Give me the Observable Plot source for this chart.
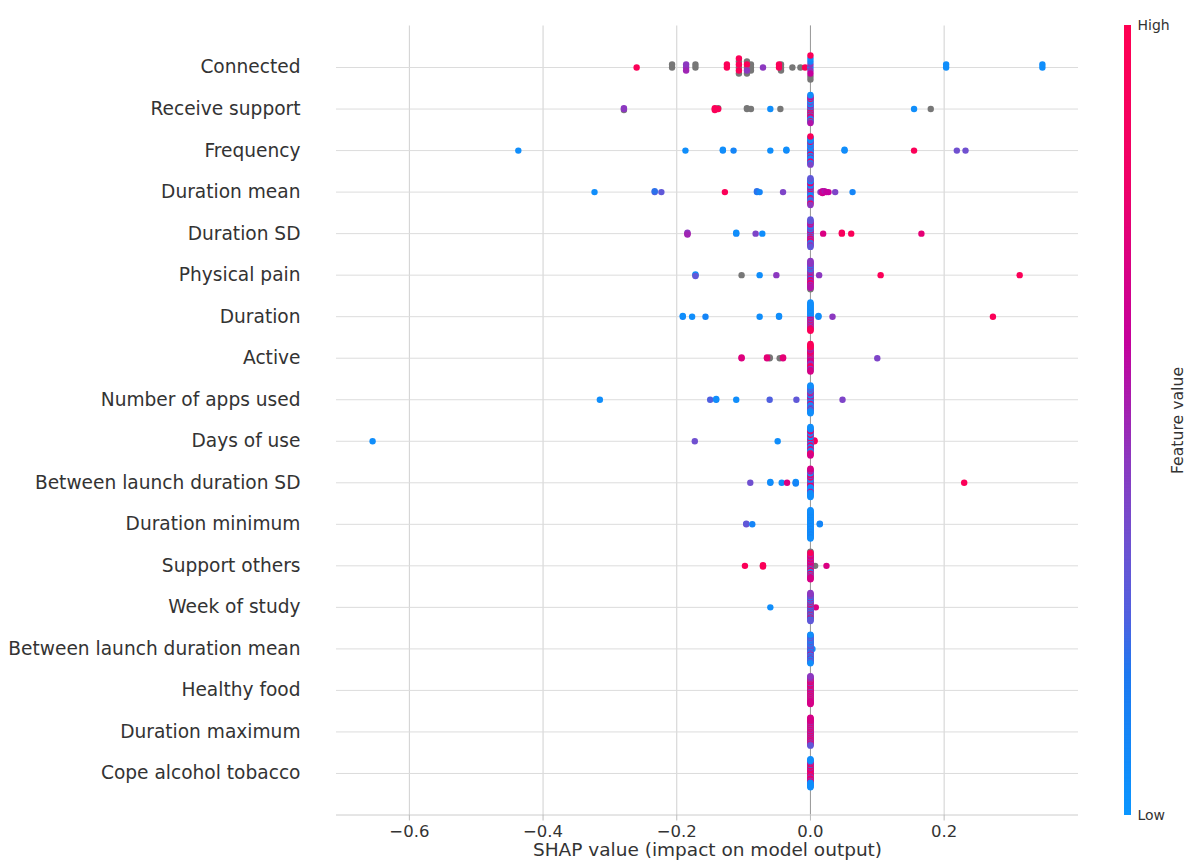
<!DOCTYPE html>
<html><head><meta charset="utf-8">
<script src="https://cdn.jsdelivr.net/npm/d3@7"></script>
<script src="https://cdn.jsdelivr.net/npm/@observablehq/plot@0.6"></script>
<style>
body{margin:0;background:#fff;font-family:"DejaVu Sans",sans-serif;}
#wrap{position:relative;width:1187px;height:862px;background:#fff;}
#main{position:absolute;left:0;top:0;}
#bar{position:absolute;left:1100px;top:0;}
</style></head><body><div id="wrap"><div id="main"></div><div id="bar"></div></div>
<script>
// Features, top to bottom
const features = ["Connected","Receive support","Frequency","Duration mean","Duration SD","Physical pain","Duration","Active","Number of apps used","Days of use","Between launch duration SD","Duration minimum","Support others","Week of study","Between launch duration mean","Healthy food","Duration maximum","Cope alcohol tobacco"];
const xTicks = [-0.6, -0.4, -0.2, 0, 0.2];
const xLabel = "SHAP value (impact on model output)";
const legendLabels = ["High", "Low", "Feature value"];

// Colour map stops (feature value -> colour)
const cmapStops = [0, 0.18, 0.25, 0.35, 0.45, 0.6, 0.8, 1];
const cmapColors = ["#0a96ff", "#1e78f0", "#5060e0", "#7050d0", "#8c38c0", "#c5009c", "#ef0068", "#ff0052"];

// Points away from zero: [SHAP value, feature value (0 = low, 1 = high, null = missing)]
const ptsConnected = [[-0.26,0.95],[-0.207,null],[-0.207,null],[-0.186,0.45],[-0.186,0.45],[-0.186,0.5],[-0.172,null],[-0.172,null],[-0.125,0.95],[-0.125,0.95],
  [-0.107,null],[-0.107,0.95],[-0.107,0.95],[-0.107,null],[-0.107,null],[-0.107,0.95],[-0.095,null],[-0.095,0.95],[-0.095,0.45],[-0.095,null],[-0.095,null],
  [-0.089,null],[-0.089,null],[-0.089,null],[-0.071,0.45],[-0.047,0.95],[-0.047,0.95],[-0.044,null],[-0.044,null],[-0.044,null],[-0.027,null],[-0.015,null],[-0.008,0.95],
  [0.203,0.05],[0.203,0.05],[0.347,0.05],[0.347,0.05]];
const ptsReceive = [[-0.279,0.45],[-0.279,0.45],[-0.279,null],[-0.143,0.95],[-0.143,0.95],[-0.143,0.95],[-0.138,0.95],[-0.138,null],[-0.095,null],[-0.095,null],[-0.089,null],[-0.06,0.05],[-0.045,null],[0.155,0.05],[0.18,null]];
const ptsFrequency = [[-0.437,0.05],[-0.187,0.05],[-0.131,0.1],[-0.131,0.05],[-0.115,0.1],[-0.06,0.05],[-0.036,0.1],[-0.036,0.05],[0.051,0.1],[0.051,0.05],[0.155,0.95],[0.219,0.35],[0.232,0.35]];
const ptsDurMean = [[-0.323,0.05],[-0.233,0.25],[-0.233,0.2],[-0.223,0.3],[-0.128,0.95],[-0.08,0.15],[-0.08,0.2],[-0.076,0.1],[-0.041,0.4],[0.015,0.45],[0.018,0.6],[0.018,0.65],[0.021,0.65],[0.021,0.55],[0.024,0.6],[0.027,0.6],[0.037,0.4],[0.063,0.1]];
const ptsDurSD = [[-0.184,0.68],[-0.184,0.45],[-0.184,0.5],[-0.111,0.1],[-0.111,0.05],[-0.082,0.4],[-0.072,0.05],[0.019,0.7],[0.047,0.95],[0.047,0.9],[0.061,0.95],[0.166,0.75]];
const ptsPain = [[-0.172,null],[-0.172,0.05],[-0.172,0.3],[-0.103,null],[-0.076,0.05],[-0.051,0.45],[0.013,0.45],[0.105,0.95],[0.313,0.95]];
const ptsDuration = [[-0.191,0.1],[-0.191,0.05],[-0.177,0.05],[-0.157,0.1],[-0.076,0.05],[-0.047,0.1],[-0.047,0.05],[0.012,0.1],[0.012,0.05],[0.033,0.45],[0.273,0.95]];
const ptsActive = [[-0.103,0.7],[-0.103,0.72],[-0.065,0.7],[-0.065,0.75],[-0.061,null],[-0.061,null],[-0.046,null],[-0.041,0.7],[-0.041,0.75],[0.1,0.4]];
const ptsApps = [[-0.315,0.05],[-0.15,0.25],[-0.141,0.1],[-0.141,0.05],[-0.111,0.05],[-0.061,0.25],[-0.021,0.3],[0.048,0.4]];
const ptsDays = [[-0.655,0.05],[-0.173,0.35],[-0.049,0.05],[0.006,0.95],[0.006,0.9]];
const ptsBLSD = [[-0.09,0.35],[-0.06,0.1],[-0.06,0.05],[-0.043,0.05],[-0.035,0.7],[-0.022,0.1],[-0.022,0.05],[-0.022,0.1],[0.23,0.95]];
const ptsDurMin = [[-0.096,0.35],[-0.096,0.3],[-0.087,0.1],[0.014,0.05],[0.014,0.1]];
const ptsSupport = [[-0.098,0.95],[-0.071,null],[-0.071,0.95],[-0.071,0.95],[0.007,null],[0.024,0.7]];
const ptsWeek = [[-0.06,0.05],[0.008,0.7]];
const ptsBLMean = [[0.003,0.05]];
const ptsHealthy = [];
const ptsDurMax = [];
const ptsCope = [];

// Feature values of the points piled at SHAP = 0 (listed from the centre outward)
const pileConnected = [0.05,0.45,0.45,0.1,0.6,0.05,null,0.95,null];
const pileReceive = [0.05,0.95,0.45,0.05,0.95,0.3,0.05,0.68,0.95,0.05,0.45,0.05,0.95,0.3,0.05,0.45,0.95,0.05,0.68,0.05,0.45,0.95,0.05,0.3,0.05,0.68,0.95,0.45,0.05,0.05,0.55];
const pileFrequency = [0.05,0.1,0.05,0.95,0.05,0.3,0.1,0.05,0.45,0.05,0.95,0.1,0.05,0.3,0.05,0.05,0.68,0.1,0.05,0.95,0.05,0.3,0.05,0.1,0.45,0.05,0.95,0.05,0.3,0.05,0.1,0.95,0.4];
const pileDurMean = [0.05,0.95,0.3,0.05,0.45,0.95,0.1,0.3,0.05,0.68,0.05,0.3,0.95,0.05,0.45,0.1,0.3,0.95,0.05,0.68,0.3,0.05,0.45,0.1,0.95,0.3,0.45,0.3];
const pileDurSD = [0.45,0.05,0.68,0.95,0.3,0.45,0.05,0.68,0.95,0.45,0.3,0.05,0.68,0.45,0.95,0.3,0.45,0.05,0.68,0.3,0.95,0.45,0.3,0.68,0.05,0.45,0.3,0.68,0.45,0.3,0.45,0.3,0.3,0.3];
const pilePain = [0.45,0.05,0.95,0.55,0.45,0.05,0.45,0.95,0.55,0.45,0.05,0.45,0.68,0.45,0.95,0.05,0.55,0.45,0.45,0.05,0.68,0.45,0.95,0.45,0.55,0.05,0.45,0.45,0.68,0.45,0.5,0.45,0.55,0.45,null,0.45,null];
const pileDuration = [0.3,0.05,0.45,0.05,0.95,0.05,0.45,0.1,0.68,0.05,0.3,0.05,0.95,0.1,0.45,0.05,0.68,0.05,0.3,0.05,0.95,0.1,0.45,0.05,0.68,0.05,0.3,0.05,0.95,0.05,0.68,0.05,0.95,0.05,0.95];
const pileActive = [0.45,0.95,0.68,0.45,null,0.95,0.68,0.45,0.68,0.95,null,0.45,0.68,0.95,0.45,0.68,null,0.95,0.45,0.68,0.95,0.45,null,0.68,0.95,0.45,0.68,0.95,0.3,0.95,0.68,0.95,null,0.95,0.68,0.95];
const pileApps = [0.45,0.05,0.68,0.05,0.3,0.95,0.05,0.45,0.05,0.68,0.3,0.05,0.95,0.05,0.45,0.3,0.05,0.68,0.05,0.3,0.05,0.95,0.45,0.05,0.05,0.3,0.68,0.05,0.05,0.45,0.3,0.05,0.05,0.3,0.05,0.05,0.05,0.05];
const pileDays = [0.95,0.05,0.68,0.05,0.95,0.3,0.05,0.68,0.05,0.95,0.3,0.05,0.68,0.05,0.95,0.05,0.3,0.68,0.05,0.95,0.05,0.3,0.68,0.05,0.95,0.05,0.45,0.68,0.05,0.95,0.05,0.68,0.3,0.05,0.95,0.05,0.68,0.05,0.95,0.05,0.68];
const pileBLSD = [0.95,0.05,0.68,0.95,0.05,0.3,0.68,0.05,0.95,0.05,0.68,0.3,0.05,0.95,0.05,0.68,0.05,0.3,0.05,0.68,0.05,0.95,0.3,0.05,0.68,0.05,0.05,0.3,0.05,0.68,0.05,0.45,0.05,0.68,0.05,0.68,0.05];
const pileDurMin = [0.05,0.1,0.05,0.05,0.1,0.05,0.1,0.05,0.05,0.1,0.05,0.05,0.1,0.05,0.1,0.05,0.05,0.1,0.05,0.05,0.1,0.05,0.1,0.05,0.05,0.1,0.05,0.05,0.1,0.05,0.1,0.05,0.05,0.1,0.05,0.05,0.1,0.05,0.1,0.05,0.05];
const pileSupport = [0.68,0.95,0.05,0.68,null,0.95,0.68,0.45,0.95,0.68,0.05,null,0.68,0.95,0.68,0.45,0.95,0.68,0.05,0.68,null,0.95,0.68,0.45,0.95,0.68,0.05,0.68,0.95,0.68,0.3,0.95,0.68,0.45,0.68,0.95,0.68,null,0.68,null];
const pileWeek = [0.95,0.3,0.05,0.68,0.45,0.95,0.05,0.3,0.68,0.45,0.05,0.95,0.3,0.05,0.68,0.45,0.05,0.95,0.3,0.05,0.68,0.45,0.05,0.3,0.95,0.05,0.45,0.68,0.05,0.3,0.45,0.05,0.95,0.3,0.05,0.45,0.68,0.3,0.05,0.45,0.3,0.45,0.3,0.45];
const pileBLMean = [0.3,0.05,0.45,0.2,0.05,0.3,0.68,0.05,0.2,0.45,0.05,0.3,0.2,0.05,0.45,0.3,0.05,0.2,0.68,0.05,0.3,0.45,0.05,0.2,0.3,0.05,0.45,0.2,0.05,0.3,0.68,0.05,0.2,0.45,0.05,0.3,0.2,0.05,0.45,0.3,0.05,0.2,0.3,0.05,0.05];
const pileHealthy = [0.95,0.68,0.45,0.95,0.68,0.55,0.95,0.68,0.45,0.95,0.68,0.3,0.95,0.68,0.45,0.95,0.68,0.55,0.95,0.68,0.45,0.95,0.68,0.3,0.95,0.68,0.45,0.95,0.68,0.55,0.95,0.68,0.45,0.95,0.68,0.45,0.68,0.95,0.68,0.45,0.68,0.55,0.68,0.45,0.68,0.45];
const pileDurMax = [0.68,0.45,0.95,0.68,0.45,0.95,0.68,0.3,0.95,0.68,0.45,0.95,0.68,0.45,0.95,0.68,0.3,0.95,0.68,0.45,0.95,0.68,0.45,0.95,0.68,0.3,0.95,0.68,0.45,0.95,0.68,0.45,0.95,0.68,0.45,0.68,0.45,0.68,0.95,0.68,0.45,0.68,0.45,0.68,0.3,0.68];
const pileCope = [0.95,0.68,0.95,0.68,0.95,0.3,0.95,0.68,0.95,0.68,0.45,0.95,0.68,0.95,0.3,0.68,0.95,0.68,0.95,0.45,0.68,0.95,0.68,0.95,0.3,0.68,0.95,0.05,0.68,0.95,0.05,0.68,0.05,0.95,0.05,0.3,0.05,0.68,0.05,0.05,0.05,0.05,0.05,0.05,0.05,0.05];

const scattered = [ptsConnected,ptsReceive,ptsFrequency,ptsDurMean,ptsDurSD,ptsPain,ptsDuration,ptsActive,ptsApps,ptsDays,ptsBLSD,ptsDurMin,ptsSupport,ptsWeek,ptsBLMean,ptsHealthy,ptsDurMax,ptsCope];
const piles = [pileConnected,pileReceive,pileFrequency,pileDurMean,pileDurSD,pilePain,pileDuration,pileActive,pileApps,pileDays,pileBLSD,pileDurMin,pileSupport,pileWeek,pileBLMean,pileHealthy,pileDurMax,pileCope];

// Beeswarm layout (same binning/stacking rule as the SHAP summary plot)
const nF = features.length;
const data = [];
features.forEach((name, i) => {
  const pos = nF - 1 - i;
  const pts = scattered[i].map(([s, v]) => ({s, v})).concat(piles[i].map(v => ({s: 0, v})));
  const mn = d3.min(pts, p => p.s), mx = d3.max(pts, p => p.s);
  pts.forEach(p => p.q = Math.round(100 * (p.s - mn) / (mx - mn + 1e-8)));
  const order = d3.range(pts.length).sort((a, b) => pts[a].q - pts[b].q || a - b);
  const ys = new Array(pts.length).fill(0);
  let layer = 0, last = null;
  for (const k of order) {
    if (pts[k].q !== last) layer = 0;
    ys[k] = Math.ceil(layer / 2) * ((layer % 2) * 2 - 1);
    layer++; last = pts[k].q;
  }
  const m = d3.max(ys, y => y + 1);
  pts.forEach((p, k) => { p.y = pos + ys[k] * 0.9 * (0.4 / m); p.feature = name; data.push(p); });
});

const cmap = d3.scaleLinear().domain(cmapStops).range(cmapColors).interpolate(d3.interpolateRgb).clamp(true);
const colorScale = {type: "linear", domain: [0, 1], interpolate: t => cmap(t)};

const main = Plot.plot({
  width: 1187, height: 862,
  marginLeft: 336, marginRight: 109, marginTop: 25.5, marginBottom: 47.5,
  style: {fontFamily: "DejaVu Sans", background: "transparent", color: "#333"},
  x: {domain: [-0.709, 0.401]},
  y: {domain: [-1, nF]},
  color: colorScale,
  marks: [
    Plot.gridX(xTicks, {stroke: "#d0d0d0", strokeOpacity: 1}),
    Plot.ruleY(d3.range(nF), {stroke: "#dcdcdc"}),
    Plot.ruleX([0], {stroke: "#999999"}),
    Plot.ruleY([-1], {stroke: "#cccccc"}),
    Plot.dot(data.filter(d => d.v == null), {x: "s", y: "y", r: 3.2, fill: "#777777"}),
    Plot.dot(data.filter(d => d.v != null), {x: "s", y: "y", r: 3.2, fill: "v"}),
    Plot.axisX(xTicks, {tickSize: 6, tickPadding: 4, fontSize: 16.5, stroke: "#bbbbbb", fill: "#333", tickFormat: d3.format(".1f"), label: null}),
    Plot.text([xLabel], {frameAnchor: "bottom", dy: 35, lineAnchor: "middle", fontSize: 18.5, fill: "#333", text: d => d}),
    Plot.axisY(d3.range(nF), {tickSize: 0, tickPadding: 36, fontSize: 18.6, fill: "#333", tickFormat: i => features[nF - 1 - i], label: null})
  ]
});
document.getElementById("main").appendChild(main);

const steps = d3.range(0, 1, 0.002);
const bar = Plot.plot({
  width: 87, height: 862,
  marginLeft: 24, marginRight: 56, marginTop: 25, marginBottom: 47,
  style: {fontFamily: "DejaVu Sans", background: "transparent", color: "#333"},
  x: {domain: [0, 1], axis: null},
  y: {domain: [0, 1], axis: null},
  color: colorScale,
  marks: [
    Plot.rect(steps, {x1: 0, x2: 1, y1: d => d, y2: d => Math.min(1, d + 0.004), fill: d => d + 0.001}),
    Plot.text([legendLabels[0]], {x: 1, y: 1, dx: 6, textAnchor: "start", fontSize: 14, fill: "#333", text: d => d}),
    Plot.text([legendLabels[1]], {x: 1, y: 0, dx: 6, textAnchor: "start", fontSize: 14, fill: "#333", text: d => d}),
    Plot.text([legendLabels[2]], {x: 1, y: 0.5, dx: 46, rotate: -90, fontSize: 15.7, fill: "#333", text: d => d})
  ]
});
document.getElementById("bar").appendChild(bar);
</script>
</body></html>
